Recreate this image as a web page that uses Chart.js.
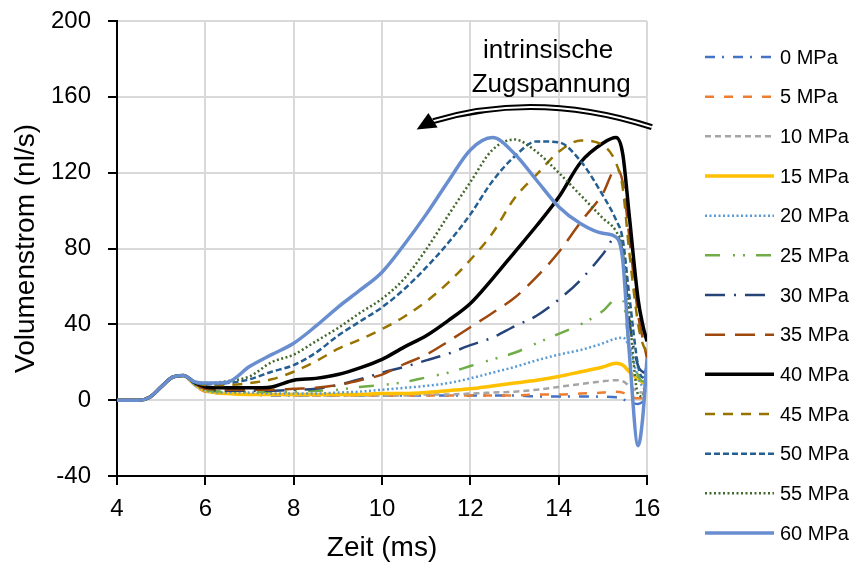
<!DOCTYPE html>
<html>
<head>
<meta charset="utf-8">
<script src="https://cdn.jsdelivr.net/npm/chart.js@4.4.1/dist/chart.umd.min.js"></script>
<style>
  html, body { margin: 0; padding: 0; background: #fff; }
  #wrap { width: 856px; height: 563px; }
</style>
</head>
<body>
<div id="wrap"><canvas id="chart" width="856" height="563"></canvas></div>
<script>
// Zeitachse (ms), gemeinsam fuer alle Kurven
var zeit = [4, 4.5, 4.75, 5, 5.25, 5.5, 5.75, 6,
  6.5, 7, 7.5, 8, 8.5, 9, 9.5, 10, 10.5, 11, 11.5, 12, 12.5, 13, 13.5, 14, 14.5, 15,
  15.3, 15.45, 15.6, 15.8, 15.9, 16];

var namen = ['0 MPa', '5 MPa', '10 MPa', '15 MPa', '20 MPa', '25 MPa', '30 MPa',
  '35 MPa', '40 MPa', '45 MPa', '50 MPa', '55 MPa', '60 MPa'];

// Volumenstrom (nl/s) je Spannung
var v0 = [0, 0, 1.7, 7, 12, 13, 8, 4.5,
  3.5, 3, 2.5, 2.5, 2.5, 2.5, 2.5, 2.5, 2.5, 2.5, 2.5, 2.5, 2.5, 2.5, 2, 2, 2, 1.8,
  1.5, 0.5, -1, -2, -1, 1];
var v5 = [0, 0, 1.7, 7, 12, 13, 8, 4.5,
  3.5, 3, 3, 2.5, 2.5, 2.5, 2.5, 2.5, 2.5, 2.5, 2.5, 2.5, 2.5, 2.5, 3, 3, 3.5, 4,
  4.5, 4, 2, 1, 1, 1.5];
var v10 = [0, 0, 1.7, 7, 12, 13, 8.5, 5,
  3.5, 3, 3, 2.5, 2.5, 2.5, 2.5, 2.5, 2.5, 3, 3, 3.5, 4, 4.5, 5.5, 7, 8.5, 10,
  10.5, 10, 7.5, 4.5, 4, 4];
var v15 = [0, 0, 1.7, 7, 12, 13, 8.5, 5,
  3.5, 3, 3, 3, 3, 3, 3, 3.5, 3.5, 4, 5, 6, 7.5, 9, 10.5, 12.5, 15, 17.5,
  19.5, 18.5, 15, 11, 9.5, 8];
var v20 = [0, 0, 1.7, 7, 12, 13, 8.5, 5,
  4, 4, 3.5, 3.5, 3.5, 4, 4.5, 5.5, 6.5, 7.5, 9, 11.5, 14.5, 17.5, 21, 24, 26.5, 30,
  32.5, 33, 28, 12, 7, 5];
var v25 = [0, 0, 1.7, 7, 12, 13, 8.5, 5.5,
  4.5, 4.5, 4.5, 4.5, 5, 5.5, 7, 8, 9.5, 12, 14.5, 18, 21.5, 25, 30, 35, 40, 47,
  53, 53, 28, 13, 10, 10];
var v30 = [0, 0, 1.7, 7, 12, 13, 9, 6,
  5, 5, 5, 5.5, 6, 8, 11, 14.5, 17.5, 21, 24.5, 29, 33, 39, 44.5, 53, 63.5, 77,
  86, 78, 42, 18, 15, 14];
var v35 = [0, 0, 1.7, 7, 12, 13, 9, 6,
  5.5, 5.5, 5.5, 6, 6.5, 8, 10.5, 13.5, 19, 24, 31, 38.5, 46, 54, 65, 78, 94, 109,
  122, 115, 86, 45, 33, 22];
var v40 = [0, 0, 1.7, 7, 12, 13, 9.5, 7,
  6.5, 6.5, 7, 10.5, 11.5, 13.5, 17, 21.5, 28, 34, 42, 51, 64, 78, 92, 107, 125.5, 135.5,
  138.5, 130, 97, 53, 40, 31];
var v45 = [0, 0, 1.7, 7, 12, 13, 9.5, 8,
  8, 9, 11, 15, 20.5, 27, 32, 37.5, 44, 52, 62, 74, 88, 106.5, 119, 131, 137, 134.5,
  125, 112, 78, 40, 30, 25];
var v50 = [0, 0, 1.7, 7, 12, 13, 9.5, 8.5,
  9, 11, 15, 18.5, 25, 34, 41.5, 49, 58.5, 70, 83, 98, 115.5, 128.5, 136.5, 136, 126, 108,
  95, 85, 55, 18, 12, 18];
var v55 = [0, 0, 1.7, 7, 12, 13, 9.5, 9,
  10, 12.5, 20, 24, 31, 38, 46, 53.5, 64, 79.5, 97.5, 115, 132, 137.5, 131, 120, 108, 96,
  89, 80, 45, 3, 2, 15];
var v60 = [0, 0, 1.7, 7, 12, 13, 9.7, 9,
  9.5, 17.7, 24, 30, 39, 49, 58, 67.5, 82, 98, 115.5, 132, 138.5, 130, 116, 102, 93, 88,
  86, 74, 25, -24, -10, 22];

var werte = [v0, v5, v10, v15, v20, v25, v30, v35, v40, v45, v50, v55, v60];

var farben = ['#4472c4', '#ed7d31', '#a5a5a5', '#ffc000', '#5b9bd5', '#70ad47', '#264478',
  '#9e480e', '#000000', '#997300', '#255e91', '#43682b', '#698ed0'];
var striche = [[10, 7, 2, 9], [9, 10], [6, 4], [], [2, 2.5], [15, 13, 2, 8, 2, 11], [20, 9, 2, 9],
  [20, 10], [], [10, 8], [6, 3], [2, 2.5], []];
var breiten = [2.5, 2.5, 2.5, 3.5, 2.5, 2.5, 2.5, 2.5, 3.5, 2.5, 2.5, 2.5, 3.5];

var schrift = '"Liberation Sans", Arial, sans-serif';
Chart.defaults.font.family = schrift;
Chart.defaults.color = '#000';

var datasets = werte.map(function (reihe, i) {
  return {
    label: namen[i],
    data: reihe.map(function (v, k) { return { x: zeit[k], y: v }; }),
    borderColor: farben[i],
    borderDash: striche[i],
    borderWidth: breiten[i],
    pointRadius: 0,
    fill: false,
    cubicInterpolationMode: 'monotone',
    order: werte.length - i
  };
});

// Legende rechts
var legende = {
  id: 'legende',
  afterDraw: function (chart) {
    var ctx = chart.ctx;
    ctx.save();
    chart.data.datasets.forEach(function (ds, i) {
      var y = 57 + i * 39.67;
      ctx.beginPath();
      ctx.setLineDash(ds.borderDash);
      ctx.lineWidth = ds.borderWidth;
      ctx.strokeStyle = ds.borderColor;
      ctx.moveTo(705, y);
      ctx.lineTo(774, y);
      ctx.stroke();
      ctx.setLineDash([]);
      ctx.fillStyle = '#000';
      ctx.font = '20px ' + schrift;
      ctx.textBaseline = 'middle';
      ctx.textAlign = 'left';
      ctx.fillText(ds.label, 780, y + 1);
    });
    ctx.restore();
  }
};

// Beschriftung + Pfeil "intrinsische Zugspannung"
var pfeil = {
  id: 'pfeil',
  afterDraw: function (chart) {
    var ctx = chart.ctx;
    var sx = chart.scales.x, sy = chart.scales.y;
    function px(t) { return sx.getPixelForValue(t); }
    function py(v) { return sy.getPixelForValue(v); }
    ctx.save();
    ctx.fillStyle = '#000';
    ctx.font = '26px ' + schrift;
    ctx.textAlign = 'center';
    ctx.textBaseline = 'alphabetic';
    ctx.fillText('intrinsische', px(13.76), py(180.4));
    ctx.fillText('Zugspannung', px(13.83), py(162.6));

    ctx.beginPath();
    ctx.moveTo(px(16.11), py(144));
    ctx.quadraticCurveTo(px(13.52), py(163.5), px(11.16), py(147.2));
    ctx.lineWidth = 6;
    ctx.strokeStyle = '#000';
    ctx.stroke();
    ctx.lineWidth = 2;
    ctx.strokeStyle = '#fff';
    ctx.stroke();

    ctx.beginPath();
    ctx.moveTo(px(10.785), py(142.8));
    ctx.lineTo(px(11.05), py(151.5));
    ctx.lineTo(px(11.26), py(143.8));
    ctx.closePath();
    ctx.fill();
    ctx.restore();
  }
};

new Chart(document.getElementById('chart'), {
  type: 'line',
  data: { datasets: datasets },
  options: {
    responsive: false,
    animation: false,
    layout: { padding: { top: 21, right: 209, bottom: 0, left: 0 } },
    plugins: {
      legend: { display: false },
      tooltip: { enabled: false }
    },
    scales: {
      x: {
        type: 'linear',
        min: 4,
        max: 16,
        ticks: { stepSize: 2, font: { size: 24 }, padding: 10, color: '#000' },
        grid: { color: '#d9d9d9', lineWidth: 2, tickColor: '#000', tickLength: 9, tickWidth: 2 },
        border: { color: '#000', width: 2 },
        title: { display: true, text: 'Zeit (ms)', font: { size: 28 }, color: '#000', padding: { top: 0, bottom: -2 } },
        afterFit: function (scale) { scale.height = 87; }
      },
      y: {
        min: -40,
        max: 200,
        ticks: { stepSize: 40, font: { size: 24 }, padding: 17, color: '#000' },
        grid: { color: '#d9d9d9', lineWidth: 2, tickColor: '#000', tickLength: 9, tickWidth: 2 },
        border: { color: '#000', width: 2 },
        title: { display: true, text: 'Volumenstrom (nl/s)', font: { size: 28 }, color: '#000', padding: { top: 9, bottom: 0 } },
        afterFit: function (scale) {
          scale.width = 117;
          scale.paddingTop = 0;
          scale.paddingBottom = 0;
        }
      }
    }
  },
  plugins: [legende, pfeil]
});
</script>
</body>
</html>
